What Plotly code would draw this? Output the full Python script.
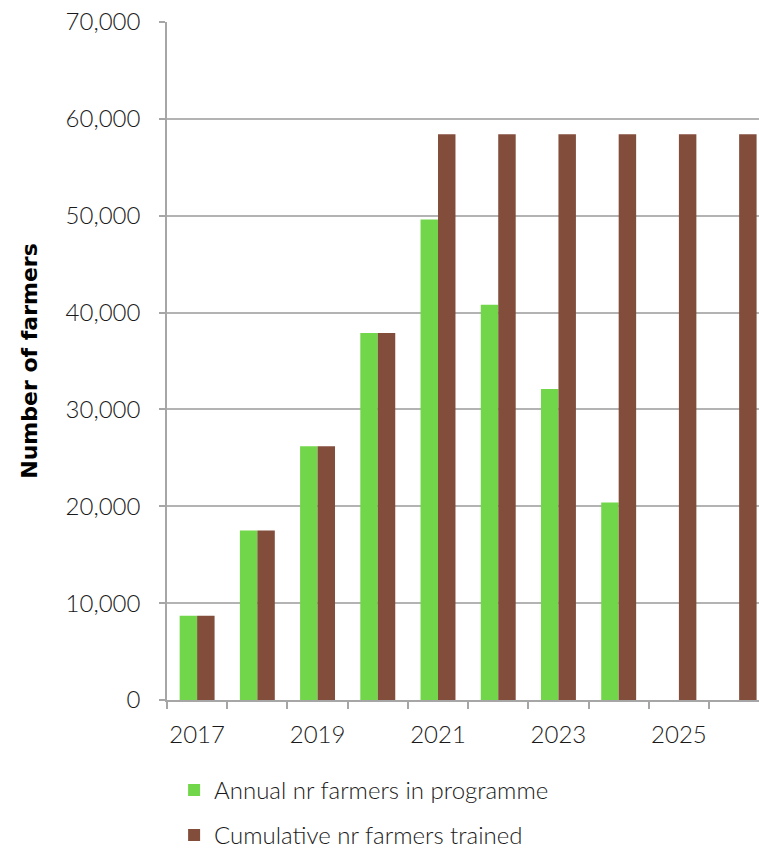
import plotly.graph_objects as go

# Farmer training programme, annual participants vs cumulative trained
years = [2017, 2018, 2019, 2020, 2021, 2022, 2023, 2024, 2025, 2026]
annual = [8700, 17500, 26200, 37900, 49600, 40800, 32100, 20400, None, None]
cumulative = [8700, 17500, 26200, 37900, 58400, 58400, 58400, 58400, 58400, 58400]
label_years = [2017, 2019, 2021, 2023, 2025]
y_ticks = [0, 10000, 20000, 30000, 40000, 50000, 60000, 70000]

GREEN = "#72d64a"
BROWN = "#834d3b"
AXIS_GREY = "#a6a6a6"
TEXT = "#1a1a1a"
FONT = "Lato, 'Open Sans', sans-serif"

fig = go.Figure()
fig.add_trace(go.Bar(
    x=years, y=annual, name="Annual nr farmers in programme",
    marker=dict(color=GREEN, line=dict(width=0)), legendgroup="a",
))
fig.add_trace(go.Bar(
    x=years, y=cumulative, name="Cumulative nr farmers trained",
    marker=dict(color=BROWN, line=dict(width=0)), legendgroup="b",
))

# category boundaries carry the small tick marks on the x axis
boundaries = [y - 0.5 for y in years] + [years[-1] + 0.5]

fig.update_layout(
    width=759, height=851,
    margin=dict(l=167, r=0, t=22, b=151, autoexpand=False),
    paper_bgcolor="white", plot_bgcolor="white",
    barmode="group", bargap=0.42, bargroupgap=0,
    font=dict(family=FONT, size=24, color=TEXT, weight=300),
    showlegend=True,
    legend=dict(
        orientation="v", x=0.012, xanchor="left", y=-0.1, yanchor="top",
        font=dict(family=FONT, size=24, color=TEXT, weight=300),
        tracegroupgap=11, traceorder="grouped", itemwidth=30,
        bgcolor="rgba(0,0,0,0)",
    ),
    xaxis=dict(
        range=[years[0] - 0.5, years[0] - 0.5 + 9.83],
        tickvals=label_years, ticktext=[str(y) for y in label_years],
        ticks="", showgrid=False, zeroline=False,
        showline=True, linecolor=AXIS_GREY, linewidth=1.5,
        tickfont=dict(family=FONT, size=24, color=TEXT, weight=300),
        ticklabelstandoff=12,
        minor=dict(tickvals=boundaries, ticks="outside", ticklen=7,
                   tickcolor=AXIS_GREY, tickwidth=1.5, showgrid=False),
    ),
    yaxis=dict(
        range=[0, 70000], tickvals=y_ticks,
        tickformat=",d", ticks="outside", ticklen=6,
        tickcolor=AXIS_GREY, tickwidth=1.5,
        showline=True, linecolor=AXIS_GREY, linewidth=1.5,
        showgrid=True, gridcolor="#b3b3b3", gridwidth=1.5,
        zeroline=False,
        tickfont=dict(family=FONT, size=24, color=TEXT, weight=300),
        ticklabelstandoff=14,
        title=dict(text="<b>Number of farmers</b>",
                   font=dict(family="'DejaVu Sans', sans-serif", size=22, color="#000000"),
                   standoff=22),
    ),
)

fig.write_html("out.html")
